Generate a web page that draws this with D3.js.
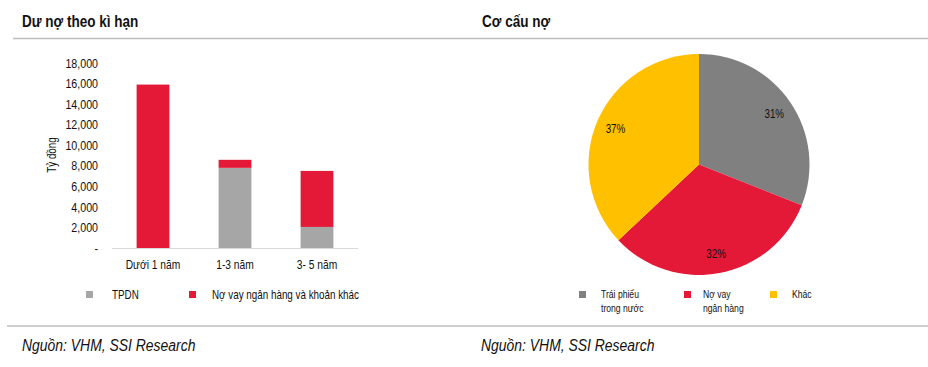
<!DOCTYPE html>
<html>
<head>
<meta charset="utf-8">
<script src="https://cdn.jsdelivr.net/npm/d3@7"></script>
<style>
  html, body { margin: 0; padding: 0; background: #fff; }
  svg { display: block; }
  text { font-family: "Liberation Sans Narrow", "Arial Narrow", "Liberation Sans", Arial, sans-serif; }
</style>
</head>
<body>
<script>
// ---- Data ----
const categories = ["Dưới 1 năm", "1-3 năm", "3- 5 năm"];
const tpdnValues = [0, 7800, 2050];
const loanValues = [15900, 780, 5450];
const seriesNames = ["TPDN", "Nợ vay ngân hàng và khoản khác"];
const yTicks = [0, 2000, 4000, 6000, 8000, 10000, 12000, 14000, 16000, 18000];

const pieLabels = [["Trái phiếu", "trong nước"], ["Nợ vay", "ngân hàng"], ["Khác"]];
const pieShares = [31, 32, 37];

const titles = ["Dư nợ theo kì hạn", "Cơ cấu nợ"];
const sourceText = "Nguồn: VHM, SSI Research";

// ---- Styles ----
const RED = "#E31937", BAR_GRAY = "#A6A6A6", PIE_GRAY = "#808080", YELLOW = "#FFC000";
const SX = 0.82; // horizontal condensing to mimic a narrow typeface

const W = 928, H = 367;
const svg = d3.select("body").append("svg").attr("width", W).attr("height", H);

function ntext(parent, x, y, str, size, opts = {}) {
  const t = parent.append("text")
    .attr("transform", `translate(${x},${y})${opts.rotate ? ` rotate(${opts.rotate})` : ""} scale(${SX},1)`)
    .attr("font-size", size).attr("fill", "#111").text(str);
  if (opts.anchor) t.attr("text-anchor", opts.anchor);
  if (opts.bold) t.attr("font-weight", "bold");
  if (opts.italic) t.attr("font-style", "italic");
  return t;
}

// Titles
ntext(svg, 22, 27, titles[0], 16.5, {bold: true});
ntext(svg, 482, 27, titles[1], 16.5, {bold: true});

// Rules
svg.append("line").attr("x1", 13).attr("x2", 928).attr("y1", 38.5).attr("y2", 38.5).attr("stroke", "#BFBFBF").attr("stroke-width", 1.5);
svg.append("line").attr("x1", 7).attr("x2", 928).attr("y1", 326).attr("y2", 326).attr("stroke", "#BFBFBF").attr("stroke-width", 1.5);

// Sources
ntext(svg, 22, 351, sourceText, 17, {italic: true});
ntext(svg, 481, 351, sourceText, 17, {italic: true});

// ---- Bar chart ----
const x = d3.scaleBand().domain(categories).range([112, 358]).paddingInner(0.6).paddingOuter(0.3);
const y = d3.scaleLinear().domain([0, 18000]).range([248, 63]);

const stackData = categories.map((c, i) => ({cat: c, tpdn: tpdnValues[i], loan: loanValues[i]}));
const stack = d3.stack().keys(["tpdn", "loan"])(stackData);
const colors = {tpdn: BAR_GRAY, loan: RED};

svg.append("g").selectAll("g").data(stack).join("g")
  .attr("fill", d => colors[d.key])
  .selectAll("rect").data(d => d).join("rect")
  .attr("x", d => x(d.data.cat))
  .attr("width", x.bandwidth())
  .attr("y", d => y(d[1]))
  .attr("height", d => y(d[0]) - y(d[1]));

// baseline
svg.append("line").attr("x1", 112).attr("x2", 358).attr("y1", 248.5).attr("y2", 248.5).attr("stroke", "#D9D9D9").attr("stroke-width", 1);

// y axis
const yAxis = d3.axisLeft(y).tickValues(yTicks).tickSize(0).tickPadding(0)
  .tickFormat(d => d === 0 ? "-" : d3.format(",")(d));
const gy = svg.append("g").attr("transform", "translate(98,0)").call(yAxis);
gy.select(".domain").remove();
gy.selectAll("text").attr("font-size", 13).attr("fill", "#111").attr("font-family", null)
  .attr("transform", `scale(${SX},1)`);

// x axis labels
const xAxis = d3.axisBottom(x).tickSize(0).tickPadding(12);
const gx = svg.append("g").attr("transform", "translate(0,248)").call(xAxis);
gx.select(".domain").remove();
gx.selectAll("text").attr("font-size", 12.5).attr("fill", "#111").attr("font-family", null)
  .attr("transform", `scale(${SX},1)`);

// y title
ntext(svg, 56, 155, "Tỷ đồng", 12, {rotate: -90, anchor: "middle"});

// legend
const legX = [86, 189], legTX = [112, 212], legColors = [BAR_GRAY, RED];
seriesNames.forEach((n, i) => {
  svg.append("rect").attr("x", legX[i]).attr("y", 291).attr("width", 7).attr("height", 7).attr("fill", legColors[i]);
  ntext(svg, legTX[i], 298.5, n, 12);
});

// ---- Pie ----
const cx = 699, cy = 164.5, R = 110.5;
const pie = d3.pie().sort(null).value(d => d)(pieShares);
const arc = d3.arc().innerRadius(0).outerRadius(R);
const labelArc = d3.arc().innerRadius(91).outerRadius(91);
const pieColors = [PIE_GRAY, RED, YELLOW];
const gp = svg.append("g").attr("transform", `translate(${cx},${cy})`);
gp.selectAll("path").data(pie).join("path").attr("d", arc).attr("fill", (d, i) => pieColors[i]);
gp.selectAll("text").data(pie).join("text")
  .attr("transform", d => `translate(${labelArc.centroid(d)}) scale(${SX},1)`)
  .attr("text-anchor", "middle").attr("dy", "0.35em")
  .attr("font-size", 12).attr("fill", "#111")
  .text(d => d.data + "%");

const pLegX = [579, 684, 770], pLegTX = [601, 703, 792];
pieLabels.forEach((lines, i) => {
  svg.append("rect").attr("x", pLegX[i]).attr("y", 291).attr("width", 7).attr("height", 7).attr("fill", pieColors[i]);
  lines.forEach((l, j) => {
    ntext(svg, pLegTX[i], 298 + j * 14, l, 10.5);
  });
});
</script>
</body>
</html>
